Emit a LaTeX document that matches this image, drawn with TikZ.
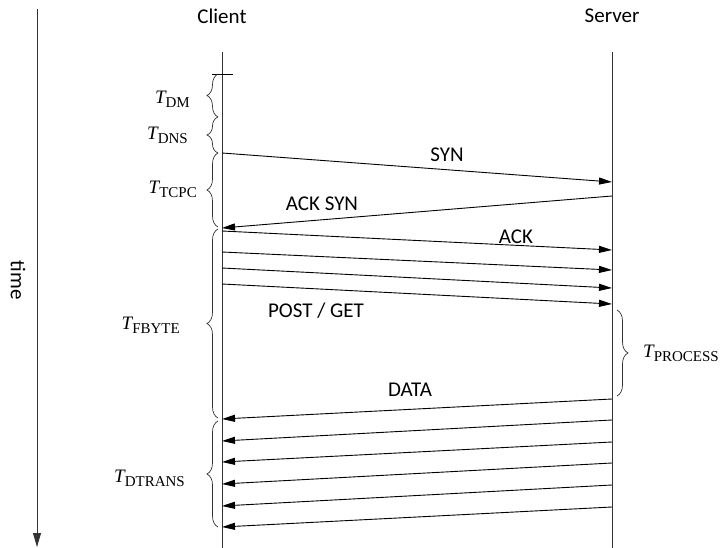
\documentclass[tikz,border=0pt]{standalone}
\usepackage{fontspec}
\setmainfont{Carlito}
\newfontfamily\tnr{Liberation Serif}
\usetikzlibrary{arrows.meta,decorations.pathreplacing}

% duration label: italic T with an upright subscript
\newcommand{\dur}[1]{{\tnr\fontsize{19}{19}\selectfont\itshape T\upshape\raisebox{-4pt}{\fontsize{15}{15}\selectfont #1}}}

\tikzset{
  lifeline/.style={line width=0.9pt, black!80},
  msg/.style={line width=0.9pt, -{Triangle[length=13pt,width=7pt]}},
  lbl/.style={font=\fontsize{21}{21}\selectfont, inner sep=0pt},
  durlbl/.style={inner sep=0pt},
  lbrace/.style={decorate, decoration={brace, amplitude=11pt}, line width=0.7pt, black!80},
}

\begin{document}
\begin{tikzpicture}[x=1pt, y=-1pt]
  \useasboundingbox (0,0) rectangle (724,548);

  % time axis
  \coordinate (t0) at (37,9);
  \coordinate (t1) at (37,547);
  \draw[line width=0.9pt, black!80, -{Triangle[length=14pt,width=8pt]}] (t0) -- (t1);
  \node[lbl, rotate=-90] (time) at (18,280) {time};

  % participants
  \node[lbl] (client) at (222,16) {Client};
  \node[lbl] (server) at (612,16) {Server};
  \coordinate (ctop) at (222,52);
  \coordinate (cbot) at (222,548);
  \coordinate (stop) at (612,52);
  \coordinate (sbot) at (612,548);
  \draw[lifeline] (ctop) -- (cbot);
  \draw[lifeline] (stop) -- (sbot);

  % start tick on the client line
  \coordinate (k0) at (212,74);
  \coordinate (k1) at (233,74);
  \draw[line width=0.8pt] (k0) -- (k1);

  % connection set-up
  \coordinate (c1) at (222,153); \coordinate (s1) at (612,182);
  \coordinate (s2) at (612,196); \coordinate (c2) at (222,228);
  \coordinate (c3) at (222,231); \coordinate (s3) at (612,250);
  \coordinate (c4) at (222,252); \coordinate (s4) at (612,270);
  \coordinate (c5) at (222,268); \coordinate (s5) at (612,288);
  \coordinate (c6) at (222,284); \coordinate (s6) at (612,304);
  \draw[msg] (c1) -- (s1);
  \draw[msg] (s2) -- (c2);
  \draw[msg] (c3) -- (s3);
  \draw[msg] (c4) -- (s4);
  \draw[msg] (c5) -- (s5);
  \draw[msg] (c6) -- (s6);
  \node[lbl] (syn) at (447,155) {SYN};
  \node[lbl] (acksyn) at (322,204) {ACK SYN};
  \node[lbl] (ack) at (516,237) {ACK};
  \node[lbl] (req) at (316,311) {POST / GET};

  % data transfer
  \foreach \i/\ys/\yc in {1/399/419, 2/420/441, 3/442/462, 4/463/484, 5/485/506, 6/507/527}{
    \coordinate (ds\i) at (612,\ys);
    \coordinate (dc\i) at (222,\yc);
    \draw[msg] (ds\i) -- (dc\i);
  }
  \node[lbl] (data) at (410,390) {DATA};

  % durations on the client side
  \draw[lbrace] (218,117) -- (218,74);
  \draw[lbrace] (218,153) -- (218,117);
  \draw[lbrace] (218,227) -- (218,153);
  \draw[lbrace] (218,418) -- (218,229);
  \draw[lbrace] (218,527) -- (218,421);
  \node[durlbl, anchor=east] (tdm) at (190,99) {\dur{DM}};
  \node[durlbl, anchor=east] (tdns) at (188,135) {\dur{DNS}};
  \node[durlbl, anchor=east] (ttcpc) at (197,189) {\dur{TCPC}};
  \node[durlbl, anchor=east] (tfbyte) at (180,325) {\dur{FBYTE}};
  \node[durlbl, anchor=east] (tdtrans) at (185,478) {\dur{DTRANS}};

  % processing time on the server side
  \draw[lbrace] (617,310) -- (617,396);
  \node[durlbl, anchor=west] (tproc) at (643,353) {\dur{PROCESS}};
\end{tikzpicture}
\end{document}
